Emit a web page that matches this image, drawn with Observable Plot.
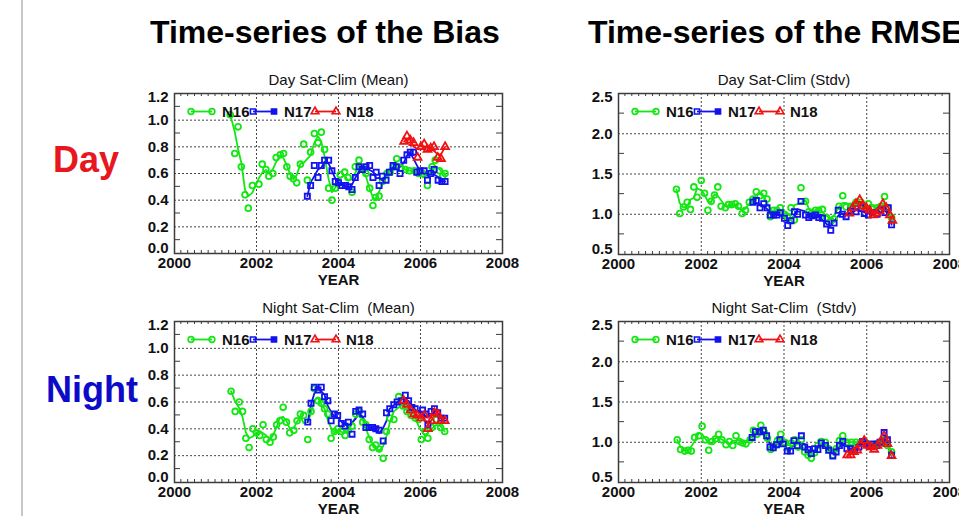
<!DOCTYPE html>
<html>
<head>
<meta charset="utf-8">
<script src="https://cdn.jsdelivr.net/npm/d3@7"></script>
<script src="https://cdn.jsdelivr.net/npm/@observablehq/plot@0.6"></script>
<style>
  html, body { margin: 0; padding: 0; background: #fff; overflow: hidden; }
  #page { position: relative; width: 959px; height: 516px; overflow: hidden; font-family: "Liberation Sans", Arial, sans-serif; }
  #page > svg.backdrop { position: absolute; left: 0; top: 0; }
  .panel { position: absolute; }
</style>
</head>
<body>
<div id="page"></div>
<script>
// Satellites, their colours and plotting symbols
const satellites = ["N16", "N17", "N18"];
const colors = { N16: "#14e614", N17: "#1212f0", N18: "#f01212" };
const symbols = { N16: "circle", N17: "square", N18: "triangle" };

// Axis ticks
const yearTicks = [2000, 2002, 2004, 2006, 2008];
const yearGrid = [2002, 2004, 2006];
const meanTicks = [0.0, 0.2, 0.4, 0.6, 0.8, 1.0, 1.2];
const meanGrid = [0.2, 0.4, 0.6, 0.8, 1.0];
const meanMinor = [0.1, 0.3, 0.5, 0.7, 0.9, 1.1];
const stdvTicks = [0.5, 1.0, 1.5, 2.0, 2.5];
const stdvGrid = [1.0, 1.5, 2.0];
const stdvMinor = [0.75, 1.25, 1.75, 2.25];

// Day, Sat-Clim mean (bias) — [year, value]
const dayMeanN16 = [
  [2001.36,1.04],[2001.47,0.75],[2001.55,0.95],[2001.63,0.65],[2001.72,0.44],[2001.80,0.34],[2001.90,0.51],
  [2002.06,0.52],[2002.14,0.67],[2002.23,0.63],[2002.30,0.58],[2002.40,0.60],[2002.48,0.72],[2002.58,0.74],
  [2002.66,0.75],[2002.74,0.65],[2002.82,0.58],[2002.90,0.56],[2002.98,0.53],[2003.07,0.67],[2003.15,0.82],
  [2003.24,0.55],[2003.32,0.76],[2003.41,0.90],[2003.50,0.83],[2003.58,0.91],[2003.66,0.78],[2003.76,0.49],
  [2003.84,0.40],[2003.92,0.49],[2004.04,0.59],[2004.15,0.61],[2004.23,0.57],[2004.33,0.46],[2004.41,0.65],
  [2004.50,0.70],[2004.58,0.64],[2004.67,0.60],[2004.76,0.49],[2004.84,0.36],[2004.90,0.42],[2004.99,0.43],
  [2005.07,0.54],[2005.18,0.60],[2005.26,0.61],[2005.34,0.65],[2005.42,0.71],[2005.52,0.64],[2005.63,0.63],
  [2005.73,0.62],[2005.85,0.62],[2005.95,0.60],[2006.06,0.60],[2006.17,0.51],[2006.28,0.65],[2006.36,0.70],
  [2006.46,0.62],[2006.54,0.58],[2006.60,0.60]
];
const dayMeanN17 = [
  [2003.24,0.43],[2003.32,0.51],[2003.41,0.66],[2003.50,0.57],[2003.58,0.66],[2003.66,0.70],[2003.76,0.70],
  [2003.84,0.62],[2003.92,0.54],[2004.00,0.53],[2004.08,0.51],[2004.17,0.51],[2004.25,0.50],[2004.33,0.48],
  [2004.41,0.57],[2004.50,0.65],[2004.58,0.63],[2004.67,0.65],[2004.76,0.66],[2004.84,0.57],[2004.92,0.61],
  [2004.99,0.51],[2005.07,0.58],[2005.16,0.55],[2005.24,0.61],[2005.33,0.66],[2005.41,0.65],[2005.50,0.60],
  [2005.59,0.70],[2005.67,0.74],[2005.75,0.76],[2005.83,0.76],[2005.91,0.61],[2005.99,0.62],[2006.09,0.62],
  [2006.17,0.55],[2006.25,0.60],[2006.33,0.63],[2006.43,0.55],[2006.52,0.54],[2006.60,0.54]
];
const dayMeanN18 = [
  [2005.60,0.84],[2005.67,0.88],[2005.75,0.85],[2005.83,0.83],[2005.93,0.72],[2006.01,0.80],[2006.09,0.82],
  [2006.17,0.78],[2006.25,0.79],[2006.33,0.80],[2006.42,0.72],[2006.50,0.71],[2006.60,0.80]
];

// Day, Sat-Clim standard deviation
const dayStdvN16 = [
  [2001.40,1.31],[2001.48,1.01],[2001.57,1.09],[2001.66,1.15],[2001.74,1.06],[2001.82,1.34],[2001.90,1.21],
  [2002.00,1.42],[2002.08,1.26],[2002.16,1.05],[2002.24,1.16],[2002.32,1.24],[2002.40,1.34],[2002.48,1.10],
  [2002.58,1.08],[2002.66,1.12],[2002.74,1.12],[2002.82,1.13],[2002.90,1.10],[2002.99,1.01],[2003.07,1.05],
  [2003.16,1.15],[2003.25,1.19],[2003.33,1.28],[2003.42,1.23],[2003.51,1.26],[2003.59,1.19],[2003.67,0.97],
  [2003.75,1.05],[2003.83,1.05],[2003.91,1.08],[2004.01,1.00],[2004.09,0.96],[2004.17,1.08],[2004.25,0.93],
  [2004.41,1.33],[2004.52,1.16],[2004.60,1.03],[2004.68,1.02],[2004.76,1.05],[2004.84,1.05],[2004.93,1.06],
  [2005.03,0.96],[2005.13,0.92],[2005.21,0.94],[2005.33,1.10],[2005.42,1.23],[2005.50,1.09],[2005.61,1.10],
  [2005.74,1.15],[2005.86,1.15],[2005.96,1.08],[2006.04,1.13],[2006.14,1.08],[2006.25,1.08],[2006.34,1.10],
  [2006.43,1.22],[2006.51,1.08],[2006.60,0.96]
];
const dayStdvN17 = [
  [2003.25,1.15],[2003.33,1.17],[2003.42,1.08],[2003.51,1.13],[2003.59,1.08],[2003.67,0.99],[2003.75,0.99],
  [2003.83,0.99],[2003.91,1.02],[2004.01,0.95],[2004.09,0.86],[2004.17,0.92],[2004.25,1.03],[2004.33,1.00],
  [2004.41,1.16],[2004.52,0.99],[2004.60,0.96],[2004.68,0.98],[2004.76,0.99],[2004.84,0.96],[2004.93,0.95],
  [2005.03,0.88],[2005.13,0.80],[2005.21,0.89],[2005.31,1.05],[2005.41,1.00],[2005.50,0.97],[2005.61,1.04],
  [2005.74,1.03],[2005.86,1.08],[2005.94,1.01],[2006.04,0.99],[2006.14,1.02],[2006.25,1.00],[2006.34,1.05],
  [2006.44,1.02],[2006.52,1.08],[2006.60,0.87]
];
const dayStdvN18 = [
  [2005.58,1.01],[2005.66,1.08],[2005.74,1.13],[2005.83,1.18],[2005.91,1.10],[2005.99,1.08],[2006.07,1.05],
  [2006.15,0.99],[2006.23,1.01],[2006.31,1.04],[2006.39,1.13],[2006.47,1.08],[2006.56,0.99],[2006.62,0.92]
];

// Night, Sat-Clim mean (bias)
const nightMeanN16 = [
  [2001.38,0.68],[2001.48,0.53],[2001.58,0.60],[2001.66,0.53],[2001.74,0.33],[2001.82,0.26],[2001.91,0.40],
  [2002.00,0.37],[2002.08,0.35],[2002.16,0.43],[2002.24,0.32],[2002.33,0.30],[2002.41,0.34],[2002.49,0.43],
  [2002.57,0.46],[2002.65,0.56],[2002.73,0.45],[2002.81,0.37],[2002.91,0.39],[2002.99,0.46],[2003.07,0.51],
  [2003.15,0.50],[2003.25,0.32],[2003.33,0.53],[2003.41,0.70],[2003.50,0.61],[2003.58,0.59],[2003.66,0.55],
  [2003.74,0.51],[2003.82,0.33],[2003.90,0.38],[2003.98,0.40],[2004.07,0.38],[2004.16,0.35],[2004.24,0.39],
  [2004.33,0.42],[2004.42,0.51],[2004.50,0.53],[2004.59,0.45],[2004.67,0.43],[2004.75,0.32],[2004.83,0.26],
  [2004.91,0.28],[2004.99,0.25],[2005.09,0.18],[2005.17,0.38],[2005.25,0.48],[2005.35,0.47],[2005.47,0.64],
  [2005.57,0.57],[2005.67,0.53],[2005.77,0.50],[2005.87,0.48],[2005.95,0.47],[2006.02,0.32],[2006.12,0.38],
  [2006.18,0.33],[2006.28,0.41],[2006.39,0.47],[2006.49,0.41],[2006.59,0.38]
];
const nightMeanN17 = [
  [2003.25,0.45],[2003.33,0.59],[2003.41,0.71],[2003.50,0.69],[2003.58,0.71],[2003.66,0.64],[2003.74,0.61],
  [2003.82,0.46],[2003.90,0.51],[2003.98,0.50],[2004.07,0.44],[2004.16,0.42],[2004.24,0.45],[2004.33,0.36],
  [2004.42,0.53],[2004.50,0.54],[2004.59,0.51],[2004.67,0.41],[2004.75,0.41],[2004.83,0.41],[2004.91,0.40],
  [2004.99,0.39],[2005.09,0.31],[2005.17,0.52],[2005.25,0.55],[2005.35,0.58],[2005.43,0.60],[2005.53,0.61],
  [2005.63,0.65],[2005.71,0.61],[2005.79,0.56],[2005.87,0.55],[2005.95,0.51],[2006.05,0.54],[2006.13,0.51],
  [2006.18,0.43],[2006.26,0.53],[2006.34,0.55],[2006.42,0.52],[2006.50,0.48],[2006.59,0.48]
];
const nightMeanN18 = [
  [2005.59,0.61],[2005.67,0.58],[2005.76,0.54],[2005.84,0.51],[2005.92,0.50],[2006.02,0.48],[2006.10,0.50],
  [2006.18,0.40],[2006.26,0.46],[2006.34,0.52],[2006.42,0.51],[2006.50,0.46],[2006.59,0.46]
];

// Night, Sat-Clim standard deviation
const nightStdvN16 = [
  [2001.42,1.03],[2001.50,0.91],[2001.60,0.89],[2001.68,0.90],[2001.76,0.89],[2001.84,1.06],[2001.94,1.08],
  [2002.02,1.20],[2002.10,1.03],[2002.18,0.90],[2002.26,1.01],[2002.34,1.04],[2002.42,1.10],[2002.50,1.03],
  [2002.60,0.97],[2002.68,1.01],[2002.76,0.96],[2002.84,1.08],[2002.92,1.01],[2003.00,0.99],[2003.08,0.98],
  [2003.18,1.03],[2003.26,1.15],[2003.35,1.10],[2003.44,1.21],[2003.52,1.13],[2003.60,1.05],[2003.68,0.91],
  [2003.76,0.95],[2003.84,1.02],[2003.92,1.10],[2004.02,1.00],[2004.10,0.93],[2004.18,0.99],[2004.26,1.03],
  [2004.34,0.94],[2004.42,1.03],[2004.50,0.88],[2004.58,0.84],[2004.66,0.80],[2004.74,0.87],[2004.82,0.96],
  [2004.90,1.01],[2005.00,1.00],[2005.08,0.92],[2005.18,0.84],[2005.26,0.92],[2005.34,1.02],[2005.42,1.08],
  [2005.52,1.00],[2005.63,1.00],[2005.74,1.00],[2005.85,1.00],[2005.95,1.01],[2006.05,0.97],[2006.15,0.96],
  [2006.24,0.98],[2006.34,1.00],[2006.42,1.04],[2006.50,0.96],[2006.60,0.88]
];
const nightStdvN17 = [
  [2003.23,1.06],[2003.31,1.13],[2003.41,1.13],[2003.50,1.15],[2003.58,1.08],[2003.66,0.94],[2003.74,0.93],
  [2003.82,0.97],[2003.90,1.03],[2003.98,0.98],[2004.08,0.89],[2004.16,0.89],[2004.24,1.02],[2004.32,0.96],
  [2004.42,1.08],[2004.50,0.94],[2004.58,0.91],[2004.66,0.86],[2004.74,0.92],[2004.82,0.91],[2004.90,0.99],
  [2005.00,0.96],[2005.08,0.90],[2005.18,0.83],[2005.26,0.88],[2005.34,0.96],[2005.42,1.01],[2005.52,0.92],
  [2005.61,0.92],[2005.71,0.90],[2005.81,0.94],[2005.90,1.01],[2005.98,0.98],[2006.06,0.95],[2006.15,0.98],
  [2006.24,0.96],[2006.32,1.00],[2006.42,1.12],[2006.50,1.03],[2006.60,0.84]
];
const nightStdvN18 = [
  [2005.53,0.84],[2005.61,0.84],[2005.69,0.88],[2005.77,0.90],[2005.85,0.98],[2005.94,1.02],[2006.02,0.96],
  [2006.10,0.94],[2006.18,0.91],[2006.26,0.96],[2006.34,1.01],[2006.42,1.08],[2006.50,0.98],[2006.60,0.83]
];

const FONT = "Liberation Sans, Arial, Helvetica, sans-serif";
const FRAME = "#3c3c3c";

// Three-point running mean with the end points left as they are
function smooth3(values) {
  const n = values.length;
  return Array.from(values, (v, i) => (i === 0 || i === n - 1) ? v : (values[i - 1] + v + values[i + 1]) / 3);
}

// Short inward ticks on all four sides of the frame
function frameTicks(yMinor) {
  return (index, { x, y }, values, dims) => {
    const top = dims.marginTop, bottom = dims.height - dims.marginBottom;
    const left = dims.marginLeft, right = dims.width - dims.marginRight;
    const g = d3.create("svg:g").attr("stroke", FRAME).attr("stroke-width", 1);
    const [x0, x1] = x.domain();
    for (const t of d3.range(x0 * 6, x1 * 6 + 1)) {
      if (t % 12 === 0) continue;
      const px = x(t / 6);
      g.append("line").attr("x1", px).attr("x2", px).attr("y1", bottom).attr("y2", bottom - 3);
      g.append("line").attr("x1", px).attr("x2", px).attr("y1", top).attr("y2", top + 3);
    }
    for (const t of yMinor) {
      const py = y(t);
      g.append("line").attr("x1", left).attr("x2", left + 6).attr("y1", py).attr("y2", py);
      g.append("line").attr("x1", right).attr("x2", right - 6).attr("y1", py).attr("y2", py);
    }
    return g.node();
  };
}

// Line-and-marker legend in the upper left of the frame
function legend(index, scales, values, dims) {
  const g = d3.create("svg:g");
  const y0 = dims.marginTop + 18.5;
  satellites.forEach((s, i) => {
    const x0 = dims.marginLeft + 17 + 62 * i;
    g.append("line").attr("x1", x0).attr("x2", x0 + 21).attr("y1", y0).attr("y2", y0)
      .attr("stroke", colors[s]).attr("stroke-width", 1.8);
    const type = { circle: d3.symbolCircle, square: d3.symbolSquare, triangle: d3.symbolTriangle }[symbols[s]];
    [x0, x0 + 21].forEach((xx, k) => {
      g.append("path").attr("transform", `translate(${xx},${y0})`)
        .attr("d", d3.symbol(type, 26)())
        .attr("fill", s === "N17" && k === 1 ? colors[s] : "none")
        .attr("stroke", colors[s]).attr("stroke-width", 1.6);
    });
    g.append("text").attr("x", x0 + 31).attr("y", y0).attr("dy", "0.36em")
      .attr("text-anchor", "start")
      .attr("font-size", 15).attr("font-weight", "bold").attr("fill", "#111").text(s);
  });
  return g.node();
}

function panel({ title, series, ticks, grid, minor, left, top, frameW, frameH, marginRight }) {
  const marginLeft = 40, marginTop = 25, marginBottom = 40;
  const yText = { tickSize: 0, tickPadding: 6, tickFormat: d3.format(".1f"), fontSize: 15, fontWeight: "bold", label: null };
  const chart = Plot.plot({
    width: marginLeft + frameW + marginRight,
    height: marginTop + frameH + marginBottom,
    marginLeft, marginRight, marginTop, marginBottom,
    style: { fontFamily: FONT, background: "transparent", overflow: "visible", color: "#111" },
    x: { domain: [2000, 2008] },
    y: { domain: [ticks[0], ticks[ticks.length - 1]] },
    marks: [
      Plot.gridX(yearGrid, { stroke: "#333", strokeOpacity: 0.9, strokeDasharray: "2,2" }),
      Plot.gridY(grid, { stroke: "#333", strokeOpacity: 0.9, strokeDasharray: "2,2" }),
      frameTicks(minor),
      ...series.map((data, i) => {
        const s = satellites[i];
        return Plot.line(data, Plot.mapY(smooth3, { x: d => d[0], y: d => d[1], stroke: colors[s], strokeWidth: 1.8 }));
      }),
      ...series.map((data, i) => {
        const s = satellites[i];
        return Plot.dot(data, { x: d => d[0], y: d => d[1], symbol: symbols[s], r: 2.9, stroke: colors[s], fill: "none", strokeWidth: 1.8 });
      }),
      Plot.frame({ stroke: FRAME, strokeWidth: 1.5 }),
      Plot.axisX(yearTicks, { tickSize: 0, tickPadding: 3.5, tickFormat: d => String(d), fontSize: 15, fontWeight: "bold", label: null }),
      // end labels sit slightly inside the frame, the rest on their gridlines
      Plot.axisY(ticks.slice(1, -1), yText),
      Plot.axisY([ticks[0]], { ...yText, dy: -5 }),
      Plot.axisY([ticks[ticks.length - 1]], { ...yText, dy: 3.5 }),
      Plot.text([title], { frameAnchor: "top", dy: -13, fontSize: 15, lineAnchor: "middle", fill: "#111" }),
      Plot.text(["YEAR"], { frameAnchor: "bottom", dy: 27, fontSize: 15, fontWeight: "bold", lineAnchor: "middle", fill: "#111" }),
      legend
    ]
  });
  chart.classList.add("panel");
  chart.style.left = left + "px";
  chart.style.top = top + "px";
  return chart;
}

const page = document.getElementById("page");

// Slide headings, row labels and the left rule
const backdrop = d3.create("svg").attr("class", "backdrop").attr("width", 959).attr("height", 516)
  .style("font-family", FONT).style("font-weight", "bold");
backdrop.append("rect").attr("x", 21).attr("y", 0).attr("width", 2).attr("height", 516).attr("fill", "#c8c8c8");
backdrop.append("text").attr("x", 150).attr("y", 43).attr("font-size", 32).attr("fill", "#000").text("Time-series of the Bias");
backdrop.append("text").attr("x", 588).attr("y", 43).attr("font-size", 32).attr("fill", "#000").text("Time-series of the RMSE");
backdrop.append("text").attr("x", 53).attr("y", 172).attr("font-size", 36).attr("fill", "#e8161e").text("Day");
backdrop.append("text").attr("x", 46).attr("y", 402).attr("font-size", 36).attr("fill", "#0c0cc8").text("Night");
page.appendChild(backdrop.node());

page.appendChild(panel({ title: "Day Sat-Clim (Mean)", series: [dayMeanN16, dayMeanN17, dayMeanN18],
  ticks: meanTicks, grid: meanGrid, minor: meanMinor, left: 134, top: 68, frameW: 328, frameH: 160, marginRight: 20 }));
page.appendChild(panel({ title: "Day Sat-Clim (Stdv)", series: [dayStdvN16, dayStdvN17, dayStdvN18],
  ticks: stdvTicks, grid: stdvGrid, minor: stdvMinor, left: 578, top: 68, frameW: 331, frameH: 161, marginRight: 10 }));
page.appendChild(panel({ title: "Night Sat-Clim\u00a0 (Mean)", series: [nightMeanN16, nightMeanN17, nightMeanN18],
  ticks: meanTicks, grid: meanGrid, minor: meanMinor, left: 134, top: 296, frameW: 328, frameH: 161, marginRight: 20 }));
page.appendChild(panel({ title: "Night Sat-Clim\u00a0 (Stdv)", series: [nightStdvN16, nightStdvN17, nightStdvN18],
  ticks: stdvTicks, grid: stdvGrid, minor: stdvMinor, left: 578, top: 296, frameW: 331, frameH: 161, marginRight: 10 }));
</script>
</body>
</html>
